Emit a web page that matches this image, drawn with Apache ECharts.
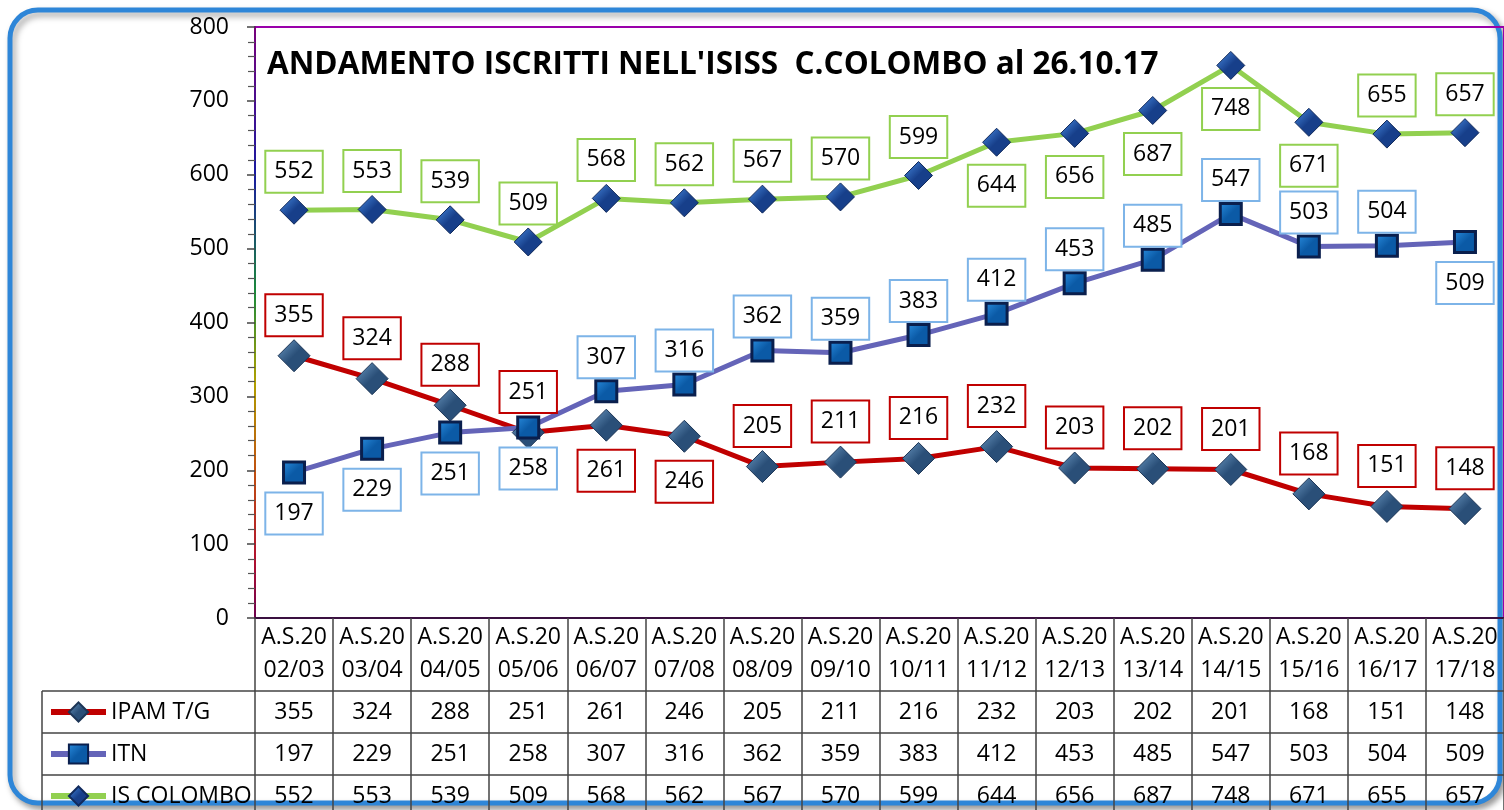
<!DOCTYPE html>
<html>
<head>
<meta charset="utf-8">
<script src="https://cdn.jsdelivr.net/npm/echarts@6/dist/echarts.min.js"></script>
<style>
  html, body { margin: 0; padding: 0; background: #fff; }
  #chart { width: 1504px; height: 810px; }
</style>
</head>
<body>
<div id="chart"></div>
<script>
var years = ['02/03', '03/04', '04/05', '05/06', '06/07', '07/08', '08/09', '09/10',
             '10/11', '11/12', '12/13', '13/14', '14/15', '15/16', '16/17', '17/18'];
var ipam = [355, 324, 288, 251, 261, 246, 205, 211, 216, 232, 203, 202, 201, 168, 151, 148];
var itn = [197, 229, 251, 258, 307, 316, 362, 359, 383, 412, 453, 485, 547, 503, 504, 509];
var colombo = [552, 553, 539, 509, 568, 562, 567, 570, 599, 644, 656, 687, 748, 671, 655, 657];
var names = ['IPAM T/G', 'ITN', 'IS COLOMBO'];
var title = "ANDAMENTO ISCRITTI NELL'ISISS  C.COLOMBO al 26.10.17";

// which point labels sit under the marker (as in the original sheet)
var ipamBelow = [4, 5];
var itnBelow = [0, 1, 2, 3, 15];
var colomboBelow = [9, 10, 11, 12, 13];

var font = '"Open Sans", "Noto Sans", sans-serif';
var categories = years.map(function(y) { return 'A.S.20\n' + y; });

function points(values, below, belowDist) {
  return values.map(function(v, i) {
    return below.indexOf(i) >= 0 ? { value: v, label: { position: 'bottom', distance: belowDist } } : v;
  });
}

function boxLabel(border, dist) {
  return {
    show: true,
    position: 'top',
    distance: dist,
    color: '#000',
    fontFamily: font,
    fontSize: 23,
    lineHeight: 26,
    backgroundColor: '#fff',
    borderColor: border,
    borderWidth: 2,
    padding: [7, 8]
  };
}

function grad(c1, c2) {
  return {
    type: 'linear', x: 0, y: 0, x2: 1, y2: 1,
    colorStops: [{ offset: 0, color: c1 }, { offset: 0.5, color: c2 }, { offset: 1, color: c2 }]
  };
}

function rowAxis(values, offset) {
  return {
    type: 'category',
    gridIndex: 0,
    position: 'bottom',
    offset: offset,
    data: values.map(String),
    axisLine: { show: true, lineStyle: { color: '#444', width: 1.5 } },
    axisTick: { show: false },
    axisLabel: { interval: 0, margin: 8, color: '#000', fontFamily: font, fontSize: 23, lineHeight: 26 }
  };
}

// one legend per table row so each sits in its own cell
function rowLegend(name, top) {
  return {
    orient: 'vertical',
    left: 48,
    top: top,
    padding: 0,
    itemWidth: 55,
    itemHeight: 24,
    data: [name],
    lineStyle: { width: 6 },
    textStyle: { fontFamily: font, fontSize: 23, lineHeight: 24, color: '#000' }
  };
}

var chart = echarts.init(document.getElementById('chart'));
chart.setOption({
  animation: false,
  backgroundColor: '#fff',
  title: {
    text: title,
    left: 262,
    top: 44,
    textStyle: { fontFamily: font, fontWeight: 'bold', fontSize: 31.5, color: '#000' }
  },
  legend: [rowLegend(names[0], 700), rowLegend(names[1], 742), rowLegend(names[2], 784)],
  grid: {
    left: 255, top: 27, width: 1253, height: 591,
    show: true, borderColor: '#9900AA', borderWidth: 2
  },
  graphic: [
    {
      type: 'rect', z: -10,
      shape: { x: 10, y: 10, width: 1490, height: 793, r: 28 },
      style: {
        fill: '#fff', stroke: '#2E86D8', lineWidth: 5,
        shadowBlur: 6, shadowOffsetX: 3, shadowOffsetY: 4, shadowColor: 'rgba(0,0,0,0.35)'
      }
    },
    { type: 'line', shape: { x1: 42, y1: 691, x2: 255, y2: 691 }, style: { stroke: '#444', lineWidth: 1.5 } },
    { type: 'line', shape: { x1: 42, y1: 733, x2: 255, y2: 733 }, style: { stroke: '#444', lineWidth: 1.5 } },
    { type: 'line', shape: { x1: 42, y1: 775, x2: 255, y2: 775 }, style: { stroke: '#444', lineWidth: 1.5 } },
    { type: 'line', shape: { x1: 42, y1: 691, x2: 42, y2: 810 }, style: { stroke: '#444', lineWidth: 1.5 } }
  ],
  xAxis: [
    {
      type: 'category',
      data: categories,
      axisLine: { show: true, lineStyle: { color: '#3a1040', width: 2 } },
      axisTick: { show: true, interval: 0, length: 200, lineStyle: { color: '#444', width: 1.5 } },
      axisLabel: { interval: 0, margin: 3, color: '#000', fontFamily: font, fontSize: 23, lineHeight: 33 }
    },
    rowAxis(ipam, 73),
    rowAxis(itn, 115),
    rowAxis(colombo, 157)
  ],
  yAxis: {
    type: 'value',
    min: 0,
    max: 800,
    interval: 100,
    axisLine: {
      show: true,
      lineStyle: {
        width: 2,
        color: {
          type: 'linear', x: 0, y: 0, x2: 0, y2: 1,
          colorStops: [
            { offset: 0, color: '#7a007a' },
            { offset: 0.25, color: '#1a1aa0' },
            { offset: 0.45, color: '#1a8a3a' },
            { offset: 0.6, color: '#b0a000' },
            { offset: 0.75, color: '#c05010' },
            { offset: 0.9, color: '#b01030' },
            { offset: 1, color: '#6a0050' }
          ]
        }
      }
    },
    axisTick: { show: true, length: 8, lineStyle: { color: '#444', width: 1.5 } },
    minorTick: { show: true, splitNumber: 5, length: 7, lineStyle: { color: '#555', width: 1.2 } },
    splitLine: { show: false },
    axisLabel: { margin: 26, color: '#000', fontFamily: font, fontSize: 23 }
  },
  series: [
    {
      name: names[0],
      type: 'line',
      data: points(ipam, ipamBelow, 9),
      symbol: 'diamond',
      symbolSize: 32,
      lineStyle: { color: '#C00000', width: 5 },
      itemStyle: { color: grad('#6f9cc6', '#2a4f78'), borderColor: '#1c3556', borderWidth: 1 },
      label: boxLabel('#C00000', 4)
    },
    {
      name: names[1],
      type: 'line',
      data: points(itn, itnBelow, 9),
      symbol: 'rect',
      symbolSize: 21,
      lineStyle: { color: '#6464B8', width: 5 },
      itemStyle: { color: grad('#2a8ee0', '#0b5aa6'), borderColor: '#0a1f4d', borderWidth: 3 },
      label: boxLabel('#7DB4E8', 2)
    },
    {
      name: names[2],
      type: 'line',
      data: points(colombo, colomboBelow, 9),
      symbol: 'diamond',
      symbolSize: 28,
      lineStyle: { color: '#92D050', width: 5 },
      itemStyle: { color: grad('#4a8ee6', '#173f8a'), borderColor: '#112a5c', borderWidth: 1 },
      label: boxLabel('#92D050', 4)
    }
  ]
});
window.addEventListener('resize', function() { chart.resize(); });
</script>
</body>
</html>
